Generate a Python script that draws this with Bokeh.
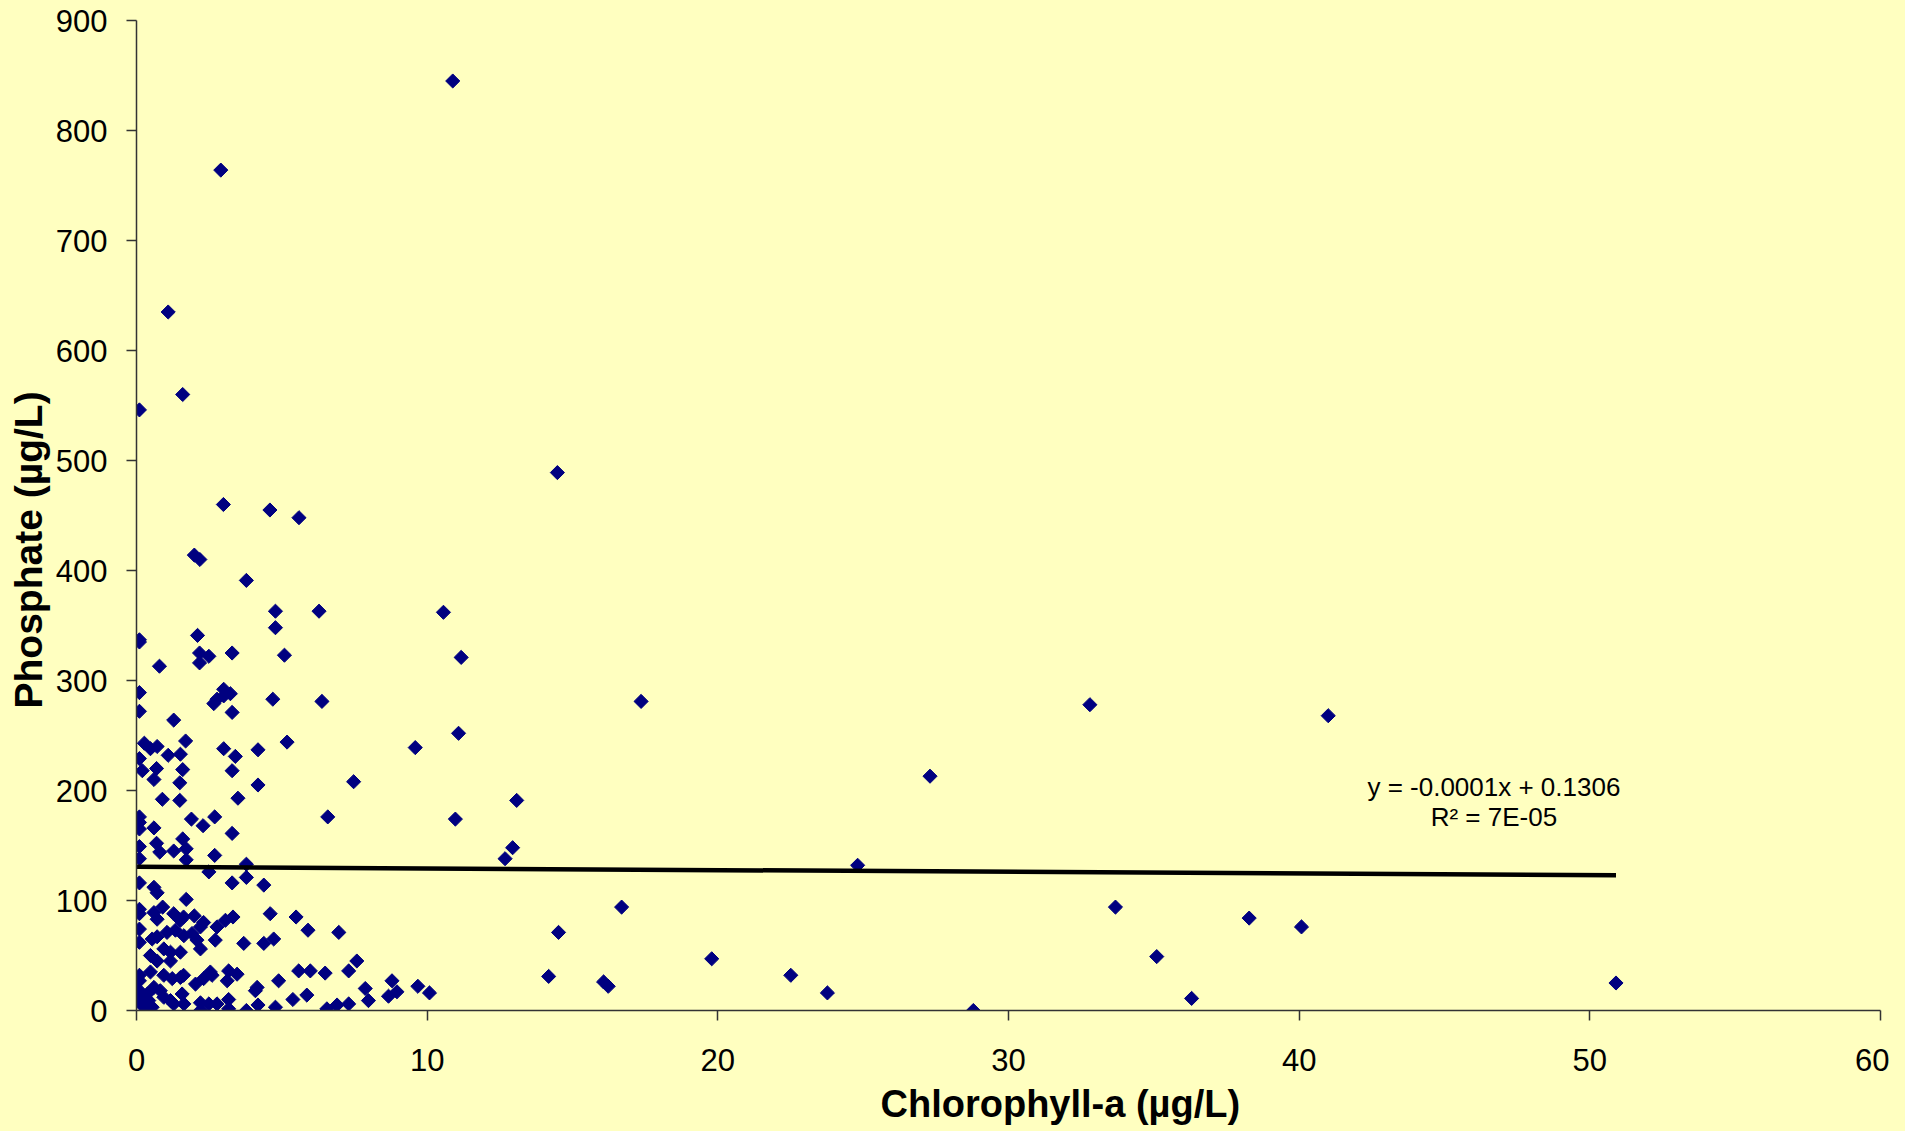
from bokeh.plotting import figure
from bokeh.models import Range1d, FixedTicker, Label, ColumnDataSource, Title
from bokeh.embed import file_html
from bokeh.resources import INLINE

# Chlorophyll-a (µg/L) and Phosphate (µg/L) readings
chl = [10.88, 2.90, 1.09, 1.59, 0.10, 14.48, 2.99, 4.59, 5.59, 1.99, 2.18, 3.78,
       4.78, 6.28, 10.56, 0.10, 0.10, 2.10, 4.78, 2.17, 2.49, 2.17, 3.29, 5.09, 11.17, 0.79,
       0.10, 0.10, 1.28, 3.00, 3.23, 2.77, 3.00, 2.66, 3.29, 4.69, 6.38, 17.36, 11.08, 5.18,
       9.59, 0.27, 0.48, 0.71, 1.69, 0.10, 1.09, 1.51, 3.00, 3.40, 4.18, 0.20, 0.69, 0.60,
       1.59, 1.49, 3.29, 4.18, 7.47, 0.89, 1.49, 3.49, 13.08, 0.10, 0.10, 0.10, 0.60, 1.89,
       2.29, 2.69, 6.58, 10.97, 3.29, 0.10, 0.69, 0.80, 1.28, 1.59, 1.71, 2.69, 12.94, 12.68,
       1.71, 0.10, 3.78, 2.49, 0.10, 0.60, 0.71, 3.29, 3.78, 4.38, 1.71, 0.10, 0.10, 0.60,
       0.71, 0.90, 1.28, 1.51, 1.62, 1.99, 2.31, 2.77, 3.06, 3.32, 4.60, 5.49, 5.90, 6.96,
       0.10, 0.10, 0.54, 0.71, 1.05, 1.34, 1.63, 1.91, 2.20, 2.08, 2.71, 2.20, 3.69, 4.38,
       4.72, 0.94, 1.17, 1.51, 0.48, 0.71, 1.17, 0.48, 0.10, 0.10, 0.94, 1.23, 1.51, 1.62,
       2.03, 2.31, 2.54, 2.60, 3.12, 3.17, 3.46, 4.15, 4.09, 4.89, 5.58, 5.98, 6.49, 7.30,
       7.58, 7.87, 7.98, 8.79, 8.96, 8.67, 9.68, 10.08, 5.86, 5.38, 7.30, 6.90, 6.55, 4.78,
       4.18, 3.78, 3.17, 3.17, 2.77, 2.49, 2.20, 2.20, 1.57, 1.63, 1.28, 0.60, 0.82, 0.94,
       1.17, 0.10, 0.14, 0.14, 0.31, 0.54, 0.37, 0.42,
       14.52, 14.18, 16.07, 16.23, 16.69, 19.79, 22.51, 23.77, 24.81, 27.30, 28.79, 32.80,
       33.68, 35.10, 36.30, 38.28, 40.08, 41.00, 50.90]
phos = [845, 764, 635, 560, 546, 489, 460, 455, 448, 414, 410, 391,
        363, 363, 362, 337, 335, 341, 348, 325, 322, 316, 325, 323, 321, 313,
        289, 272, 264, 292, 288, 283, 286, 279, 271, 283, 281, 281, 252, 244,
        239, 243, 238, 240, 245, 229, 232, 233, 238, 231, 237, 218, 220, 210,
        219, 207, 218, 205, 208, 192, 191, 193, 191, 176, 171, 165, 166, 174,
        168, 176, 176, 174, 161, 149, 152, 144, 145, 156, 147, 141, 148, 138,
        137, 138, 133, 126, 116, 112, 107, 116, 121, 114, 101, 92, 88, 89,
        83, 94, 88, 82, 85, 86, 80, 76, 82, 85, 88, 85, 73, 71,
        74, 62, 65, 67, 71, 73, 68, 70, 76, 64, 64, 56, 61, 61,
        65, 56, 53, 53, 50, 45, 45, 35, 32, 27, 32, 29, 30, 32,
        24, 29, 35, 32, 27, 36, 33, 21, 18, 27, 36, 36, 34, 36,
        45, 20, 9, 27, 17, 13, 22, 16, 14, 10, 6, 5, 1.5, 3,
        5, 0, 10, 1.5, 6, 6, 7, 0, 15, 6, 6, 21, 18, 12,
        9, 18, 12, 6, 3, 3, 15, 9,
        71, 31, 26, 22, 94, 47, 32, 16, 132, 213, 0, 278,
        94, 49, 11, 84, 76, 268, 25]

# Linear trend line endpoints (as drawn in the picture)
trend_x = [0.0, 50.9]
trend_y = [130.6, 123.0]

x_ticks = [0, 10, 20, 30, 40, 50, 60]
y_ticks = [0, 100, 200, 300, 400, 500, 600, 700, 800, 900]

eq_text = ["y = -0.0001x + 0.1306", "R\u00b2 = 7E-05"]
eq_x = [46.7, 46.7]
eq_y = [203, 176]

x_title = "Chlorophyll-a (\u00b5g/L)"
y_title = "Phosphate (\u00b5g/L)"

BG = "#FFFFC0"
FONT = "Liberation Sans"

p = figure(width=1889, height=1131, output_backend="svg", toolbar_location=None,
           x_range=Range1d(0, 60), y_range=Range1d(0, 900),
           min_border_left=136, min_border_right=9, min_border_top=20, min_border_bottom=121)
p.background_fill_color = BG
p.border_fill_color = BG
p.outline_line_color = None
p.xgrid.visible = False
p.ygrid.visible = False

src = ColumnDataSource(dict(x=chl, y=phos))
p.scatter("x", "y", source=src, marker="square", size=10, angle=0.785398,
          fill_color="#000080", line_color="#000080", line_width=1)

p.line(trend_x, trend_y, line_width=4.5, line_color="black")

for t, xx, yy in zip(eq_text, eq_x, eq_y):
    p.add_layout(Label(x=xx, y=yy, text=t, text_align="center", text_baseline="middle",
                       text_font=FONT, text_font_size="26px", text_color="black"))

for ax in (p.xaxis[0], p.yaxis[0]):
    ax.axis_line_color = "#333333"
    ax.axis_line_width = 1.5
    ax.major_tick_line_color = "#333333"
    ax.major_tick_line_width = 1.5
    ax.major_tick_out = 10
    ax.major_tick_in = 0
    ax.minor_tick_line_color = None
    ax.major_label_text_font = FONT
    ax.major_label_text_font_size = "31px"
    ax.major_label_text_color = "black"

p.xaxis.ticker = FixedTicker(ticks=x_ticks)
p.yaxis.ticker = FixedTicker(ticks=y_ticks)
p.xaxis.major_label_standoff = 28
p.yaxis.major_label_standoff = 19

# axis titles as side titles (the original's are not centred on the frame)
p.add_layout(Title(text=x_title, align="left", offset=744, standoff=14,
                   text_font=FONT, text_font_size="38px", text_font_style="bold",
                   text_color="black"), "below")
p.add_layout(Title(text=y_title, align="left", offset=302, standoff=5,
                   text_font=FONT, text_font_size="39px", text_font_style="bold",
                   text_color="black"), "left")

html = file_html(p, INLINE)
html = html.replace("<head>", "<head><style>html,body{background:%s;}</style>" % BG, 1)
open("out.html", "w").write(html)
